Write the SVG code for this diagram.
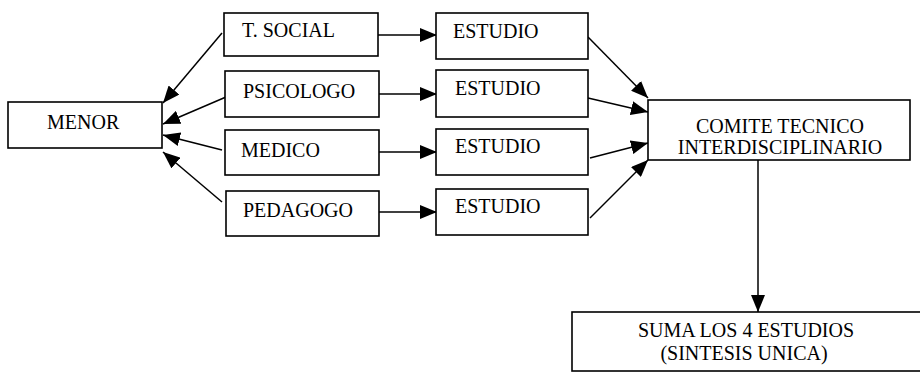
<svg xmlns="http://www.w3.org/2000/svg" width="920" height="373" viewBox="0 0 920 373">
<style>
.box{fill:#fff;stroke:#000;stroke-width:1.6}
.t{font-family:'Liberation Serif','DejaVu Serif','Times New Roman',Times,serif;font-size:20px;fill:#000}
.c{text-anchor:middle}
.ln{fill:none;stroke:#000;stroke-width:1.5}
</style>
<defs>
<marker id="ah" markerUnits="userSpaceOnUse" markerWidth="18" markerHeight="14" refX="17" refY="7" orient="auto">
<path d="M0,0 L17,7 L0,14 Z" fill="#000"/>
</marker>
</defs>
<rect width="920" height="373" fill="#fff"/>
<g id="connectors">
<line class="ln" x1="222" y1="33" x2="163" y2="103" marker-end="url(#ah)"/>
<line class="ln" x1="226" y1="97" x2="163" y2="124" marker-end="url(#ah)"/>
<line class="ln" x1="222" y1="150" x2="163" y2="135" marker-end="url(#ah)"/>
<line class="ln" x1="222" y1="202" x2="163" y2="152" marker-end="url(#ah)"/>
<line class="ln" x1="378" y1="35" x2="437" y2="35" stroke-width="2.2" marker-end="url(#ah)"/>
<line class="ln" x1="379" y1="94" x2="437" y2="94" marker-end="url(#ah)"/>
<line class="ln" x1="379" y1="152" x2="437" y2="152" marker-end="url(#ah)"/>
<line class="ln" x1="379" y1="212" x2="437" y2="212" marker-end="url(#ah)"/>
<line class="ln" x1="588" y1="37" x2="648" y2="98" marker-end="url(#ah)"/>
<line class="ln" x1="588" y1="98" x2="648" y2="112" marker-end="url(#ah)"/>
<line class="ln" x1="590" y1="158" x2="648" y2="143" marker-end="url(#ah)"/>
<line class="ln" x1="590" y1="218" x2="648" y2="160" marker-end="url(#ah)"/>
<line class="ln" x1="758" y1="160" x2="758" y2="312" marker-end="url(#ah)"/>
</g>
<g font-family="Liberation Serif, DejaVu Serif, serif">
<g id="menor"><rect class="box" x="8" y="102" width="154" height="46"/><text class="t" x="47" y="129">MENOR</text></g>
<g id="tsocial"><rect class="box" x="224" y="13" width="154" height="43"/><text class="t" x="242" y="37">T. SOCIAL</text></g>
<g id="psicologo"><rect class="box" x="225" y="71" width="154" height="46"/><text class="t" x="243" y="98">PSICOLOGO</text></g>
<g id="medico"><rect class="box" x="225" y="130" width="154" height="45"/><text class="t" x="241" y="157">MEDICO</text></g>
<g id="pedagogo"><rect class="box" x="226" y="191" width="153" height="45"/><text class="t" x="243" y="217">PEDAGOGO</text></g>
<g id="estudio1"><rect class="box" x="436" y="13" width="152" height="46"/><text class="t" x="453" y="38">ESTUDIO</text></g>
<g id="estudio2"><rect class="box" x="436" y="70" width="152" height="47"/><text class="t" x="455" y="95">ESTUDIO</text></g>
<g id="estudio3"><rect class="box" x="436" y="129" width="152" height="46"/><text class="t" x="455" y="153">ESTUDIO</text></g>
<g id="estudio4"><rect class="box" x="436" y="189" width="152" height="46"/><text class="t" x="455" y="213">ESTUDIO</text></g>
<g id="comite"><rect class="box" x="648" y="100" width="262" height="60"/><text class="t c" x="780" y="133">COMITE TECNICO</text><text class="t c" x="780" y="154">INTERDISCIPLINARIO</text></g>
<g id="suma"><rect class="box" x="572" y="312" width="360" height="59"/><text class="t c" x="746" y="337">SUMA LOS 4 ESTUDIOS</text><text class="t c" x="744" y="360">(SINTESIS UNICA)</text></g>
</g>
</svg>
